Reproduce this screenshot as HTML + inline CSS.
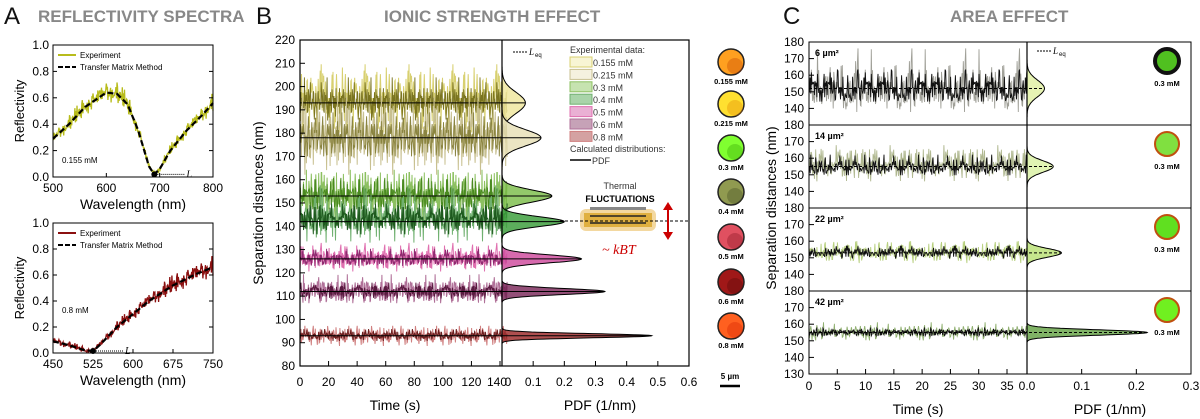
<!DOCTYPE html>
<html><head><meta charset="utf-8"><style>
html,body{margin:0;padding:0;background:#fff}
svg{display:block;font-family:"Liberation Sans",sans-serif}
</style></head><body>
<svg id="fig" width="1200" height="419" viewBox="0 0 1200 419">
<g>
<text x="4" y="24" font-size="24" fill="#111">A</text>
<text x="38" y="22" font-size="17" font-weight="bold" fill="#888">REFLECTIVITY SPECTRA</text>
</g>
<g>
<text x="256" y="24" font-size="24" fill="#111">B</text>
<text x="384" y="22" font-size="17" font-weight="bold" fill="#888">IONIC  STRENGTH  EFFECT</text>
</g>
<g>
<text x="783" y="24" font-size="24" fill="#111">C</text>
<text x="950" y="22" font-size="17" font-weight="bold" fill="#888">AREA EFFECT</text>
</g>
<g id="A"></g><g id="B"></g><g id="C"></g>
</svg>
<script>
// ---------- data ----------
const noise = [0.3,-0.8,1.2,-0.2,0.6,-1.5,0.9,0.1,-0.6,2.1,-0.4,0.7,-1.1,0.2,1.6,-0.9,0.4,-0.3,1.0,-1.8,0.5,0.8,-0.7,0.0,1.4,-1.2,0.3,-0.5,2.4,-0.6,0.2,-1.0,0.9,-0.3,1.1,-1.6,0.6,0.4,-0.9,1.8,-0.2,-0.7,1.3,-1.3,0.1,0.7,-0.4,2.0,-1.0,0.5,-0.1,1.2,-1.9,0.8,0.3,-0.8,1.5,-0.5,0.0,-1.2,0.9,2.6,-0.7,0.4,-1.4,0.6,1.0,-0.3,-0.9,1.7,-0.6,0.2,-1.1,0.8,0.5,-1.7,1.1,-0.2,0.3,2.2,-0.8,-0.4,1.0,-1.5,0.7,0.1,-0.6,1.4,-1.0,0.4];
const specTopWl = [500,530,560,600,620,640,660,680,690,700,720,750,780,800];
const specTopR  = [0.29,0.40,0.53,0.64,0.63,0.55,0.35,0.08,0.02,0.06,0.20,0.35,0.47,0.56];
const specBotWl = [450,480,510,525,540,570,600,630,675,720,750];
const specBotR  = [0.09,0.06,0.02,0.015,0.07,0.20,0.30,0.40,0.52,0.61,0.66];
const ionicLabels = ["0.155 mM","0.215 mM","0.3 mM","0.4 mM","0.5 mM","0.6 mM","0.8 mM"];
const ionicMeans = [193,178,153,142,126,112,93];
const ionicStd = [7,7,5,5,3,3,2];
const ionicPdfSigma = [4.5,3.5,2.6,2.1,1.7,1.3,0.9];
const ionicPeaks = [0.075,0.125,0.16,0.2,0.255,0.33,0.48];
const areaLabels = ["6 µm²","14 µm²","22 µm²","42 µm²"];
const areaMeans = [152,155,153,155];
const areaStd = [8,5,3,2];
const areaPdfSigma = [5,3.5,2.6,1.6];
const areaPeaks = [0.032,0.048,0.063,0.22];
const ticksB = [80,90,100,110,120,130,140,150,160,170,180,190,200,210,220];
const timeTicksB = [0,20,40,60,80,100,120,140];
const pdfTicksB = [0,0.1,0.2,0.3,0.4,0.5,0.6];
const timeTicksC = [0,5,10,15,20,25,30,35];
const pdfTicksC = ["0.0","0.1","0.2","0.3"];

// ---------- helpers ----------
const NS="http://www.w3.org/2000/svg";
function el(parent,tag,attrs,text){const e=document.createElementNS(NS,tag);for(const k in attrs)e.setAttribute(k,attrs[k]);if(text!==undefined)e.textContent=text;parent.appendChild(e);return e;}
function lin(d0,d1,r0,r1){return v=>r0+(v-d0)*(r1-r0)/(d1-d0);}
function pts(a){return a.map(p=>p[0].toFixed(1)+","+p[1].toFixed(1)).join(" ");}
function interp(xs,ys,x){for(let i=0;i<xs.length-1;i++){if(x<=xs[i+1]){const t=(x-xs[i])/(xs[i+1]-xs[i]);return ys[i]+t*(ys[i+1]-ys[i]);}}return ys[ys.length-1];}
function nz(j,s){return noise[(j*j+s*31+j*s)%89];}

// ---------- Panel A ----------
const A=document.getElementById('A');
function spectrum(y0,y1,xmin,xmax,xticks,wl,R,col,conc,name,concDy){
  const g=el(A,'g',{});
  
  
  const X=lin(xmin,xmax,53,213), Y=lin(0,1,y1,y0);
  const fitLine=[];for(let w=xmin;w<=xmax;w+=2)fitLine.push([X(w),Y(interp(wl,R,w))]);
  const exp=[];let k=0;for(let w=xmin;w<=xmax;w+=1.0){const r=interp(wl,R,w);exp.push([X(w),Y(Math.max(0,r+nz(k,3)*0.035*(0.3+r*1.3)))]);k++;}
  const e=el(g,'polyline',{points:pts(exp),fill:'none',stroke:col,'stroke-width':1.3});
  
  const f=el(g,'polyline',{points:pts(fitLine),fill:'none',stroke:'#000','stroke-width':2.2,'stroke-dasharray':'6,3'});
  
  el(g,'rect',{x:53,y:y0,width:160,height:y1-y0,fill:'none',stroke:'#000','stroke-width':1});
  for(let v=0;v<=1.0001;v+=0.2){const yy=Y(v);el(g,'line',{x1:53,x2:57,y1:yy,y2:yy,stroke:'#000'});el(g,'line',{x1:213,x2:209,y1:yy,y2:yy,stroke:'#000'});el(g,'text',{x:49,y:yy+4,'font-size':12,'text-anchor':'end'},v.toFixed(1));}
  xticks.forEach(v=>{const xx=X(v);el(g,'line',{x1:xx,x2:xx,y1:y1,y2:y1-4,stroke:'#000'});el(g,'text',{x:xx,y:y1+15,'font-size':12,'text-anchor':'middle'},v);});
  el(g,'text',{x:133,y:y1+32,'font-size':14,'text-anchor':'middle'},'Wavelength (nm)');
  el(g,'text',{x:0,y:0,'font-size':13,'text-anchor':'middle',transform:`translate(24,${(y0+y1)/2}) rotate(-90)`},'Reflectivity');
  el(g,'line',{x1:58,x2:76,y1:y0+10,y2:y0+10,stroke:col,'stroke-width':2});
  el(g,'text',{x:80,y:y0+13,'font-size':8},'Experiment');
  el(g,'line',{x1:58,x2:76,y1:y0+22,y2:y0+22,stroke:'#000','stroke-width':2,'stroke-dasharray':'5,2'});
  el(g,'text',{x:80,y:y0+25,'font-size':8},'Transfer Matrix Method');
  el(g,'text',{x:62,y:y1-concDy,'font-size':8},conc);
  const mi=R.indexOf(Math.min(...R));const mx=X(wl[mi]),my=Y(R[mi]);
  el(g,'circle',{cx:mx,cy:my,r:3,fill:'#000'});
  el(g,'line',{x1:mx+3,x2:mx+30,y1:my,y2:my,stroke:'#000','stroke-dasharray':'1,1'});
  el(g,'text',{x:mx+32,y:my+3,'font-size':10,'font-style':'italic','font-family':'Liberation Serif'},'L');
}
spectrum(45,177,500,800,[500,600,700,800],specTopWl,specTopR,'#b8bc1c','0.155 mM','spectrum-top',14);
spectrum(223,353,450,750,[450,525,600,675,750],specBotWl,specBotR,'#8b1010','0.8 mM','spectrum-bottom',40);

// ---------- Panel B ----------
const B=document.getElementById('B');
const bX=lin(0,140,300,500), bY=lin(80,220,366,40), bP=lin(0,0.6,502,689);
const lightCols=['#d8d070','#c8c090','#8cc060','#70b070','#e070b0','#b07098','#d08080'];
const darkCols=['#7a7420','#8a8440','#4a8a20','#1e5a1e','#902a70','#5a1a40','#6a1e1e'];
const fillCols=['#f0e8a0','#e8e0b8','#80c050','#40a040','#d050a0','#803060','#a03030'];
ionicMeans.forEach((m,i)=>{
  const g=el(B,'g',{});
  
  
  const n=420, a=[],d=[];
  for(let j=0;j<=n;j++){const t=145*j/n;const z=nz(j,i);const z2=nz(j+7,i+11);a.push([bX(t),bY(m+ionicStd[i]*(z*0.9+z2*0.4))]);d.push([bX(t),bY(m+ionicStd[i]*0.6*z2)]);}
  el(g,'polyline',{points:pts(a),fill:'none',stroke:lightCols[i],'stroke-width':1});
  el(g,'polyline',{points:pts(d),fill:'none',stroke:darkCols[i],'stroke-width':0.9});
  const s=ionicPdfSigma[i];
  const pd=[[bP(0),bY(m-3.5*s)]];
  for(let v=-3.5;v<=3.5;v+=0.1)pd.push([bP(ionicPeaks[i]*Math.exp(-v*v/2)),bY(m+v*s)]);
  pd.push([bP(0),bY(m+3.5*s)]);
  const pg=el(g,'polygon',{points:pts(pd),fill:fillCols[i],'fill-opacity':0.85,stroke:'#000','stroke-width':1});
  
  el(g,'line',{x1:300,x2:bP(ionicPeaks[i]),y1:bY(m),y2:bY(m),stroke:'#000','stroke-width':1});
});
el(B,'rect',{x:300,y:40,width:389,height:326,fill:'none',stroke:'#000','stroke-width':1.2});
el(B,'line',{x1:502,x2:502,y1:40,y2:366,stroke:'#000','stroke-width':1.2});
ticksB.forEach(v=>{const y=bY(v);el(B,'line',{x1:300,x2:305,y1:y,y2:y,stroke:'#000'});el(B,'text',{x:295,y:y+4,'font-size':12,'text-anchor':'end'},v);});
timeTicksB.forEach(v=>{const x=bX(v);el(B,'line',{x1:x,x2:x,y1:366,y2:361,stroke:'#000'});el(B,'text',{x:x-(v===140?3:0),y:386,'font-size':12,'text-anchor':'middle'},v);});
pdfTicksB.forEach(v=>{const x=bP(v);el(B,'line',{x1:x,x2:x,y1:366,y2:361,stroke:'#000'});el(B,'text',{x:x+(v===0?6:0),y:386,'font-size':12,'text-anchor':'middle'},v);});
el(B,'text',{x:395,y:410,'font-size':14,'text-anchor':'middle'},'Time (s)');
el(B,'text',{x:600,y:410,'font-size':14,'text-anchor':'middle'},'PDF (1/nm)');
el(B,'text',{x:0,y:0,'font-size':14,'text-anchor':'middle',transform:'translate(263,203) rotate(-90)'},'Separation distances (nm)');
// legend
const lg=el(B,'g',{});


el(lg,'line',{x1:513,x2:527,y1:52,y2:52,stroke:'#000','stroke-dasharray':'2,1'});
el(lg,'text',{x:529,y:55,'font-size':9,'font-style':'italic','font-family':'Liberation Serif'},'L');
el(lg,'text',{x:535,y:57,'font-size':6},'eq');
el(lg,'text',{x:570,y:53,'font-size':9,fill:'#333'},'Experimental data:');
ionicLabels.forEach((l,i)=>{const y=57+i*12.4;el(lg,'rect',{x:570,y:y,width:22,height:10,fill:fillCols[i],'fill-opacity':0.45,stroke:lightCols[i]});el(lg,'text',{x:593,y:y+9,'font-size':9,fill:'#333'},l);});
el(lg,'text',{x:570,y:152,'font-size':9,fill:'#333'},'Calculated distributions:');
el(lg,'line',{x1:570,x2:591,y1:160,y2:160,stroke:'#000','stroke-width':1.5});
el(lg,'text',{x:592,y:164,'font-size':9,fill:'#333'},'PDF');
// thermal illustration
const th=el(B,'g',{});


el(th,'text',{x:620,y:189,'font-size':9,'text-anchor':'middle',fill:'#333'},'Thermal');
el(th,'text',{x:620,y:202,'font-size':9,'font-weight':'bold','text-anchor':'middle'},'FLUCTUATIONS');
el(th,'rect',{x:580,y:209,width:76,height:22,rx:6,fill:'#f3d8a0'});
el(th,'rect',{x:590,y:207,width:56,height:3,fill:'#888'});
el(th,'rect',{x:584,y:213,width:68,height:14,fill:'#e0b040'});
el(th,'line',{x1:590,x2:646,y1:216,y2:216,stroke:'#222','stroke-width':1.5});
el(th,'line',{x1:590,x2:646,y1:223,y2:223,stroke:'#222','stroke-width':1.5});
el(th,'line',{x1:560,x2:689,y1:221,y2:221,stroke:'#000','stroke-dasharray':'3,2'});
el(th,'line',{x1:668,x2:668,y1:208,y2:234,stroke:'#c00','stroke-width':2});
el(th,'polygon',{points:'663,210 673,210 668,202',fill:'#c00'});
el(th,'polygon',{points:'663,232 673,232 668,240',fill:'#c00'});
el(th,'text',{x:602,y:254,'font-size':14,'font-style':'italic',fill:'#c00','font-family':'Liberation Serif'},'~ kBT');
// vesicle images
const vCols=[['#ffa020','#c04000'],['#ffe030','#e08000'],['#80ff30','#30a000'],['#909a50','#404820'],['#e05060','#801020'],['#a01818','#500808'],['#ff6020','#d02000']];
const vY=[62,104,148,192,237,282,326];
ionicLabels.forEach((l,i)=>{const g=el(B,'g',{});
 el(g,'circle',{cx:731,cy:vY[i],r:13,fill:vCols[i][0],stroke:'#222','stroke-width':1.5});
 el(g,'circle',{cx:735,cy:vY[i]+4,r:8,fill:vCols[i][1],'fill-opacity':0.35});
 el(g,'text',{x:731,y:vY[i]+22,'font-size':7.5,'font-weight':'bold','text-anchor':'middle'},l);});
el(B,'text',{x:730,y:379,'font-size':8,'font-weight':'bold','text-anchor':'middle'},'5 µm');
el(B,'line',{x1:720,x2:740,y1:386,y2:386,stroke:'#000','stroke-width':2.5});

// ---------- Panel C ----------
const C=document.getElementById('C');
const cX=lin(0,35,809,1007), cP=lin(0,0.3,1027,1191);
const rowTop=[42,125,208,291], rowH=83;
const cLight=['#a0a098','#b0b890','#b8d080','#90b070'], cFill=['#e0f0a0','#d8f0a0','#b8e070','#60a040'];
const vcC=['#50c020','#80e040','#60e020','#70f020'];
areaMeans.forEach((m,i)=>{
  const y0=rowTop[i], Y=lin(130,180,y0+rowH,y0);
  const g=el(C,'g',{});
  
  
  const a=[],d=[];const n=360;
  for(let j=0;j<=n;j++){const t=38.5*j/n;const z=nz(j,i+20);const z2=nz(j+5,i+40);a.push([cX(t),Y(m+areaStd[i]*(z*0.9+z2*0.4))]);d.push([cX(t),Y(m+areaStd[i]*0.55*z2)]);}
  el(g,'polyline',{points:pts(a),fill:'none',stroke:cLight[i],'stroke-width':0.9});
  el(g,'polyline',{points:pts(d),fill:'none',stroke:'#111','stroke-width':0.9});
  const s=areaPdfSigma[i];
  const pd=[[cP(0),Y(m-3.5*s)]];
  for(let v=-3.5;v<=3.5;v+=0.1)pd.push([cP(areaPeaks[i]*Math.exp(-v*v/2)),Y(m+v*s)]);
  pd.push([cP(0),Y(m+3.5*s)]);
  el(g,'polygon',{points:pts(pd),fill:cFill[i],'fill-opacity':0.8,stroke:'#000','stroke-width':1});
  el(g,'line',{x1:809,x2:cP(areaPeaks[i]),y1:Y(m),y2:Y(m),stroke:'#000','stroke-dasharray':'3,2'});
  el(g,'rect',{x:809,y:y0,width:382,height:rowH,fill:'none',stroke:'#000','stroke-width':1});
  [140,150,160,170,180].concat(i===3?[130]:[]).forEach(v=>{const y=Y(v);el(g,'line',{x1:809,x2:814,y1:y,y2:y,stroke:'#000'});el(g,'text',{x:804,y:y+4,'font-size':12,'text-anchor':'end'},v);});
  el(g,'text',{x:815,y:y0+14,'font-size':9,'font-weight':'bold'},areaLabels[i]);
  el(g,'circle',{cx:1167,cy:y0+19,r:12,fill:vcC[i],stroke:i===0?'#111':'#c05010','stroke-width':i===0?4:2});
  el(g,'text',{x:1167,y:y0+44,'font-size':7.5,'font-weight':'bold','text-anchor':'middle'},'0.3 mM');
});
el(C,'line',{x1:1027,x2:1027,y1:42,y2:374,stroke:'#000','stroke-width':1.2});
timeTicksC.forEach(v=>{const x=cX(v);el(C,'line',{x1:x,x2:x,y1:374,y2:369,stroke:'#000'});el(C,'text',{x:x,y:390,'font-size':12,'text-anchor':'middle'},v);});
pdfTicksC.forEach(v=>{const x=cP(+v);el(C,'line',{x1:x,x2:x,y1:374,y2:369,stroke:'#000'});el(C,'text',{x:x,y:390,'font-size':12,'text-anchor':'middle'},v);});
el(C,'text',{x:918,y:414,'font-size':14,'text-anchor':'middle'},'Time (s)');
el(C,'text',{x:1110,y:414,'font-size':14,'text-anchor':'middle'},'PDF (1/nm)');
el(C,'text',{x:0,y:0,'font-size':14,'text-anchor':'middle',transform:'translate(776,208) rotate(-90)'},'Separation distances (nm)');
el(C,'line',{x1:1037,x2:1051,y1:51,y2:51,stroke:'#000','stroke-dasharray':'2,1'});
el(C,'text',{x:1053,y:54,'font-size':9,'font-style':'italic','font-family':'Liberation Serif'},'L');
el(C,'text',{x:1059,y:56,'font-size':6},'eq');
</script>
</body></html>
